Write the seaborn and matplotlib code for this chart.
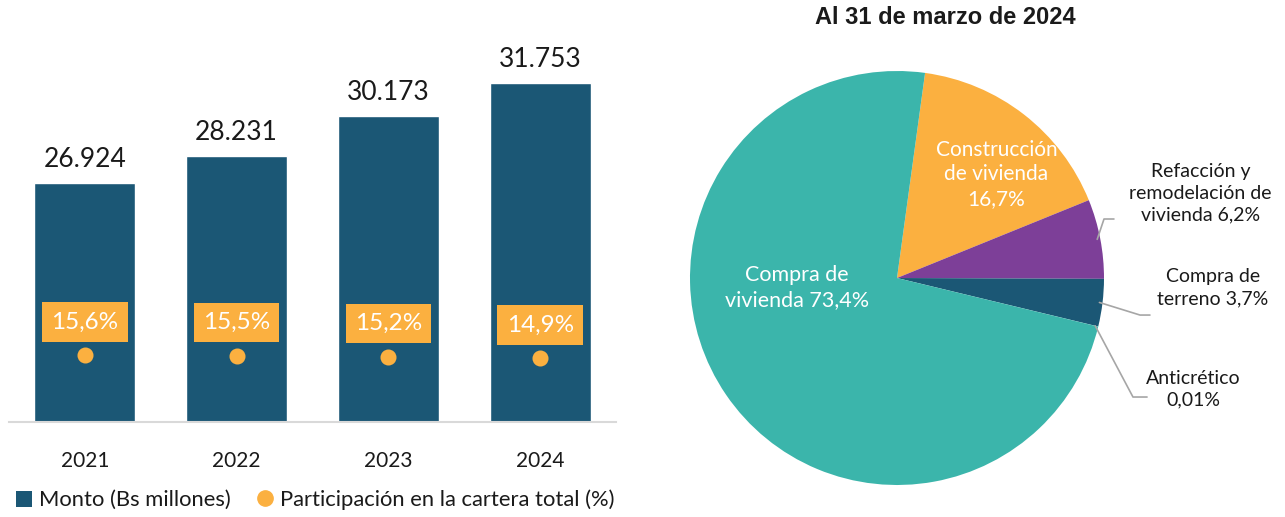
import numpy as np
import pandas as pd
import matplotlib
matplotlib.use("Agg")
import matplotlib.pyplot as plt
from matplotlib.patches import Patch
from matplotlib.lines import Line2D
import seaborn as sns

# ---------------- data ----------------
years = ["2021", "2022", "2023", "2024"]
montos = [26924, 28231, 30173, 31753]
participacion = [15.6, 15.5, 15.2, 14.9]

pie_labels = ["Construcción\nde vivienda", "Refacción y\nremodelación de\nvivienda",
              "Compra de\nterreno", "Anticrético", "Compra de\nvivienda"]
pie_values = [16.7, 6.2, 3.7, 0.01, 73.4]
pie_value_text = ["16,7%", "6,2%", "3,7%", "0,01%", "73,4%"]

legend_labels = ["Monto (Bs millones)", "Participación en la cartera total (%)"]
title = "Al 31 de marzo de 2024"

# ---------------- style ----------------
DARK = "#1B5775"
ORANGE = "#FBB040"
TEAL = "#3BB5AB"
PURPLE = "#7D3F98"
TXT = "#1A1A1A"

sns.set_theme(style="white")
plt.rcParams["font.family"] = ["Lato", "DejaVu Sans"]

W, H = 1285, 517
fig = plt.figure(figsize=(W / 100, H / 100), dpi=100)

def fx(px):
    return px / W

def fy(py):
    return 1 - py / H

# ---------------- left: bars ----------------
df = pd.DataFrame({"year": years, "monto": montos, "pct": participacion})
ax = fig.add_axes([fx(9), fy(422), fx(616) - fx(9), fy(20) - fy(422)])
sns.barplot(data=df, x="year", y="monto", color=DARK, width=0.665, saturation=1,
            ax=ax, zorder=2)
ax.set_ylim(15383, 34794)
ax.set_xlim(-0.5, 3.5)
for c in ax.containers:
    ax.bar_label(c, labels=[f"{v:,}".replace(",", ".") for v in montos],
                 padding=8, fontsize=19, color=TXT)
ax.set_xlabel("")
ax.set_ylabel("")
ax.set_yticks([])
ax.tick_params(axis="x", length=0, pad=21, labelsize=15, labelcolor=TXT)
for s in ["top", "left", "right"]:
    ax.spines[s].set_visible(False)
ax.spines["bottom"].set_color("#D9D9D9")
ax.spines["bottom"].set_linewidth(1.5)

ax2 = ax.twinx()
sns.pointplot(data=df, x="year", y="pct", color=ORANGE, linestyle="none",
              markers="o", markersize=9.5, ax=ax2, zorder=3)
ax2.set_ylim(0, 94)
ax2.set_xlim(-0.5, 3.5)
ax2.set_yticks([])
ax2.set_ylabel("")
ax2.set_xlabel("")
for s in ["top", "left", "right", "bottom"]:
    ax2.spines[s].set_visible(False)
for i, p in enumerate(participacion):
    ax2.annotate(f"{p:.1f}%".replace(".", ","), (i, p), xytext=(0, 24),
                 textcoords="offset points", ha="center", va="center",
                 fontsize=17.5, color="white",
                 bbox=dict(boxstyle="square,pad=0.38", fc=ORANGE, ec="none"))

handles = [Patch(facecolor=DARK, edgecolor="none"),
           Line2D([], [], marker="o", linestyle="none", color=ORANGE, markersize=11)]
fig.legend(handles, legend_labels, loc="center left", bbox_to_anchor=(fx(5), fy(500)),
           ncol=2, frameon=False, fontsize=15.8, handlelength=0.75, handleheight=0.75,
           handletextpad=0.3, columnspacing=1.2, borderpad=0, labelcolor=TXT)

# ---------------- right: pie ----------------
R = 207
cx, cy = 897, 278
axp = fig.add_axes([fx(cx - R), fy(cy + R), fx(2 * R), (2 * R) / H])
wedges, _ = axp.pie(pie_values, colors=[ORANGE, PURPLE, DARK, TEAL, TEAL],
                    startangle=82.2, counterclock=False,
                    wedgeprops=dict(linewidth=0))
axp.set_xlim(-1, 1)
axp.set_ylim(-1, 1)
axp.set_aspect("equal")
axp.axis("off")

# inside labels
axp.text(0.48, 0.50, pie_labels[0] + "\n" + pie_value_text[0], ha="center", va="center",
         color="white", fontsize=15, linespacing=1.3)
axp.text(-0.483, -0.045, pie_labels[4] + " " + pie_value_text[4], ha="center", va="center",
         color="white", fontsize=15.5, linespacing=1.3)

# outside labels with leader lines
outside = [
    (1, (1.465, 0.41), [(1.0, 0.285), (1.048, 0.285)]),
    (2, (1.525, -0.048), [(1.174, -0.179), (1.222, -0.179)]),
    (3, (1.43, -0.536), [(1.14, -0.575), (1.208, -0.575)]),
]
for idx, (tx, ty), pts in outside:
    w = wedges[idx]
    mid = np.deg2rad((w.theta1 + w.theta2) / 2)
    ax0, ay0 = 0.985 * np.cos(mid), 0.985 * np.sin(mid)
    xs = [ax0] + [p[0] for p in pts]
    ys = [ay0] + [p[1] for p in pts]
    axp.plot(xs, ys, color="#A6A6A6", lw=1.2, clip_on=False)
    if idx == 3:
        txt = pie_labels[idx] + "\n" + pie_value_text[idx]
    else:
        txt = pie_labels[idx] + " " + pie_value_text[idx]
    axp.text(tx, ty, txt, ha="center", va="center", color=TXT, fontsize=14,
             linespacing=1.35, clip_on=False)

fig.text(fx(945), fy(18), title, ha="center", va="center", fontsize=17,
         fontweight="bold", family=["Liberation Sans", "DejaVu Sans"], color=TXT)

fig.savefig("out.png", dpi=100)
